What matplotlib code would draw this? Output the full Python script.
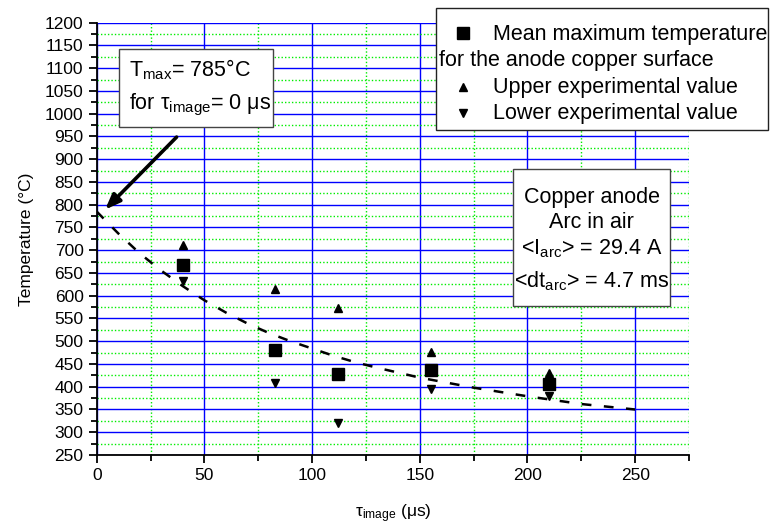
import matplotlib.pyplot as plt
from matplotlib.lines import Line2D
from matplotlib.patches import Rectangle
from matplotlib.ticker import MultipleLocator

plt.rcParams['font.family'] = ['Liberation Sans', 'DejaVu Sans']
plt.rcParams['mathtext.default'] = 'regular'

# measured points (tau_image in us, temperature in deg C)
tau = [40, 83, 112, 155, 210]
t_mean = [668, 480, 427, 436, 405]
t_upper = [711, 614, 572, 477, 431]
t_lower = [633, 409, 321, 396, 379]

# dashed fit curve
fit_x = [0, 10, 20, 30, 40, 50, 60, 70, 80, 90, 100, 110, 120, 130, 140, 150, 175, 200, 225, 250]
fit_t = [785, 737, 693, 655, 621, 590, 563, 539, 518, 500, 484, 468, 454, 442, 431, 420, 398, 379, 362, 350]

W, H = 770, 531


def fpos(x, y):
    # pixel position (from top-left) -> figure fraction
    return x / W, 1 - y / H


fig = plt.figure(figsize=(7.7, 5.31), dpi=100)
ax = fig.add_axes([96.7 / W, 1 - 455 / H, (689 - 96.7) / W, (455 - 22.7) / H])

ax.plot(fit_x, fit_t, color='black', lw=1.8, linestyle=(0, (3.9, 5.0)), zorder=3)
ax.plot(tau, t_mean, 's', color='black', ms=9, zorder=4)
ax.plot(tau, t_upper, '^', color='black', ms=5.5, zorder=4)
ax.plot(tau, t_lower, 'v', color='black', ms=5.5, zorder=4)

ax.set_xlim(0, 275)
ax.set_ylim(250, 1200)
ax.xaxis.set_major_locator(MultipleLocator(50))
ax.xaxis.set_minor_locator(MultipleLocator(25))
ax.yaxis.set_major_locator(MultipleLocator(50))
ax.yaxis.set_minor_locator(MultipleLocator(25))

ax.grid(True, which='major', color='#0000ff', lw=1.0, ls='-')
ax.grid(True, which='minor', color='#00ee00', lw=1.0, ls=(0, (1, 1.5)))
ax.set_axisbelow(True)

for s in ['top', 'right']:
    ax.spines[s].set_visible(False)
for s in ['left', 'bottom']:
    ax.spines[s].set_linewidth(1.3)
ax.tick_params(which='major', direction='out', length=6, width=1.3, labelsize=12.5)
ax.tick_params(which='minor', direction='out', length=4, width=1.3)

ax.set_xlabel('τ$_{image}$ (μs)', fontsize=12.5, labelpad=14)
ax.set_ylabel('Temperature (°C)', fontsize=12.5, labelpad=8)

# annotation box with arrow
fig.add_artist(Rectangle(fpos(119.3, 126.7), 154 / W, 77.7 / H, transform=fig.transFigure,
                         facecolor='white', edgecolor='#444444', lw=1.0, zorder=5))
fig.text(*fpos(129.3, 76), 'T$_{max}$= 785°C', fontsize=15.5, va='baseline', zorder=6)
fig.text(*fpos(129.3, 109.3), 'for τ$_{image}$= 0 μs', fontsize=15.5, va='baseline', zorder=6)
ax.annotate('', xy=(3, 785), xytext=(38, 953),
            arrowprops=dict(arrowstyle='-|>,head_length=0.9,head_width=0.35', color='black', lw=2.6),
            zorder=5)

# conditions box
fig.add_artist(Rectangle(fpos(513.3, 306), 156.7 / W, 137 / H, transform=fig.transFigure,
                         facecolor='white', edgecolor='#444444', lw=1.0, zorder=5))
cx = 591.7
for txt, yb in [('Copper anode', 203.3), ('Arc in air', 228.3),
                ('<I$_{arc}$> = 29.4 A', 254), ('<dt$_{arc}$> = 4.7 ms', 287.3)]:
    fig.text(*fpos(cx, yb), txt, fontsize=15.5, ha='center', va='baseline', zorder=6)

# legend
fig.add_artist(Rectangle(fpos(436, 130), 332 / W, 122 / H, transform=fig.transFigure,
                         facecolor='white', edgecolor='#222222', lw=1.0, zorder=5))
for mk, ms, ym in [('s', 9, 33.3), ('^', 5.5, 86.7), ('v', 5.5, 113.3)]:
    fig.add_artist(Line2D([463 / W], [1 - ym / H], marker=mk, ms=ms, color='black',
                          transform=fig.transFigure, zorder=6))
fig.text(*fpos(493, 40), 'Mean maximum temperature', fontsize=15.5, va='baseline', zorder=6)
fig.text(*fpos(439, 66), 'for the anode copper surface', fontsize=15.5, va='baseline', zorder=6)
fig.text(*fpos(493, 92.7), 'Upper experimental value', fontsize=15.5, va='baseline', zorder=6)
fig.text(*fpos(493, 119.3), 'Lower experimental value', fontsize=15.5, va='baseline', zorder=6)

fig.savefig('out.png', dpi=100)
